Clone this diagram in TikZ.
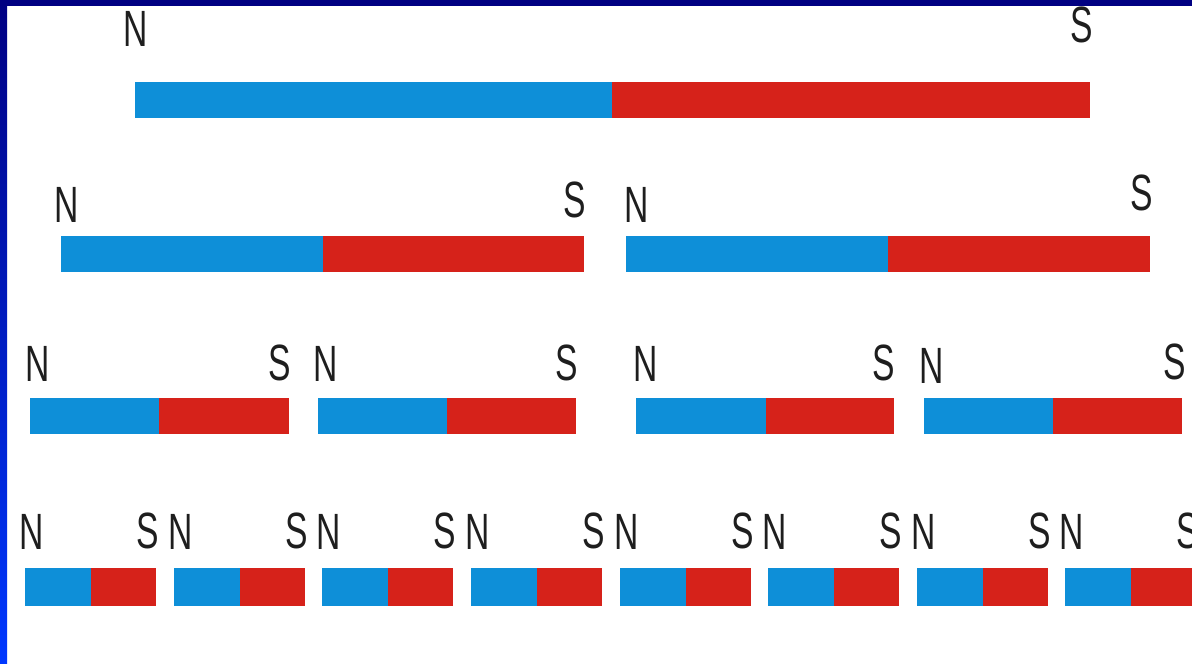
\documentclass[tikz,border=0pt]{standalone}
\usepackage{fontspec}
\setmainfont{Liberation Sans}
\definecolor{nblue}{RGB}{14,143,216}
\definecolor{sred}{RGB}{214,34,26}
\definecolor{navy}{RGB}{0,0,130}
\definecolor{frameblue}{RGB}{0,56,255}
\definecolor{ink}{RGB}{30,30,30}
\newcommand\magnetbar[6]{%
  \fill[nblue] (#2,#5) rectangle (#3,#6);
  \fill[sred] (#3,#5) rectangle (#4,#6);
  \coordinate (#1) at (#2,#5);
}
\begin{document}
\begin{tikzpicture}[x=1pt,y=-1pt,
  pole/.style={font=\fontsize{51}{51}\selectfont, xscale=0.66, inner sep=0pt, text=ink, anchor=south}]
\useasboundingbox (0,0) rectangle (1192,664);
\fill[white] (0,0) rectangle (1192,664);
% frame
\shade[top color=navy, bottom color=frameblue] (0,0) rectangle (7,664);
\fill[navy] (0,0) rectangle (1192,6);
% row 1
\magnetbar{m1}{135}{612}{1090}{82}{118}
\node[pole] (m1n) at (136,47) {N};
\node[pole] (m1s) at (1082,43) {S};
% row 2
\magnetbar{m21}{61}{323}{584}{236}{272}
\magnetbar{m22}{626}{888}{1150}{236}{272}
\node[pole] (m21n) at (67,223) {N};
\node[pole] (m21s) at (575,218) {S};
\node[pole] (m22n) at (637,223) {N};
\node[pole] (m22s) at (1142,211) {S};
% row 3
\magnetbar{m31}{30}{159}{289}{398}{434}
\magnetbar{m32}{318}{447}{576}{398}{434}
\magnetbar{m33}{636}{766}{894}{398}{434}
\magnetbar{m34}{924}{1053}{1182}{398}{434}
\node[pole] (m31n) at (38,382) {N};
\node[pole] (m31s) at (280,381) {S};
\node[pole] (m32n) at (326,382) {N};
\node[pole] (m32s) at (567,381) {S};
\node[pole] (m33n) at (646,382) {N};
\node[pole] (m33s) at (884,381) {S};
\node[pole] (m34n) at (932,384) {N};
\node[pole] (m34s) at (1175,380) {S};
% row 4
\foreach \i/\xa in {1/25,2/174,3/322,4/471,5/620,6/768,7/917,8/1065}{
  \pgfmathsetmacro\xm{\xa+66}
  \pgfmathsetmacro\xb{\xa+131}
  \pgfmathsetmacro\xn{\xa+7}
  \pgfmathsetmacro\xs{\xa+123}
  \magnetbar{m4\i}{\xa}{\xm}{\xb}{568}{606}
  \node[pole] (m4\i n) at (\xn,550) {N};
  \node[pole] (m4\i s) at (\xs,549) {S};
}
\end{tikzpicture}
\end{document}
